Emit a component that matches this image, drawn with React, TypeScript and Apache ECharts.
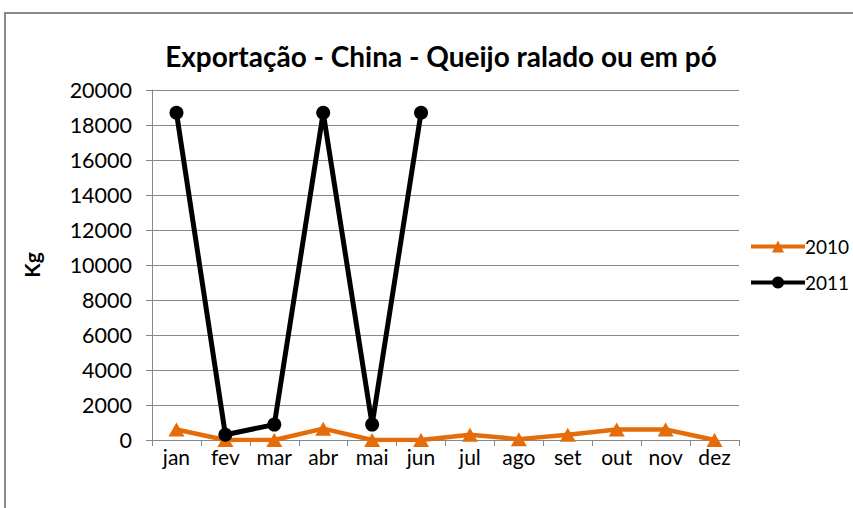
import React, { useEffect, useRef } from "react";
import * as echarts from "echarts";

const months = ["jan", "fev", "mar", "abr", "mai", "jun", "jul", "ago", "set", "out", "nov", "dez"];
const series2010 = [600, 0, 0, 650, 0, 0, 300, 50, 300, 600, 600, 0];
const series2011: (number | null)[] = [18700, 300, 880, 18700, 880, 18700, null, null, null, null, null, null];
const yTicks = [0, 2000, 4000, 6000, 8000, 10000, 12000, 14000, 16000, 18000, 20000];

const FONT = "Lato";

export default function App() {
  const ref = useRef<HTMLDivElement>(null);
  useEffect(() => {
    document.body.style.margin = "0";
    const chart = echarts.init(ref.current!, null, { renderer: "svg" });
    chart.setOption({
      animation: false,
      backgroundColor: "#fff",
      title: {
        text: "Exportação - China - Queijo ralado ou em pó",
        left: 436,
        top: 37,
        textAlign: "center",
        textStyle: { fontFamily: FONT, fontWeight: "bold", fontSize: 28, color: "#000" },
      },
      graphic: [
        {
          type: "rect",
          shape: { x: 5, y: 13, width: 860, height: 510 },
          style: { fill: "none", stroke: "#888", lineWidth: 2 },
          silent: true,
        },
      ],
      legend: {
        orient: "vertical",
        left: 744,
        top: 232,
        itemGap: 17,
        itemWidth: 54,
        itemHeight: 15,
        textStyle: { fontFamily: FONT, fontSize: 19, color: "#000", padding: [0, 0, 0, -5] },
        data: [
          { name: "2010", itemStyle: { color: "#E46C0A" }, lineStyle: { width: 4, color: "#E46C0A" } },
          { name: "2011", itemStyle: { color: "#000" }, lineStyle: { width: 4, color: "#000" } },
        ],
      },
      grid: { left: 152, right: 114, top: 90, bottom: 68, containLabel: false },
      xAxis: {
        type: "category",
        data: months,
        boundaryGap: true,
        axisLine: { lineStyle: { color: "#888", width: 1 } },
        axisTick: { show: true, lineStyle: { color: "#888" }, length: 6, alignWithLabel: false },
        axisLabel: { fontFamily: FONT, fontSize: 21, color: "#000", margin: 6 },
      },
      yAxis: {
        type: "value",
        min: 0,
        max: 20000,
        interval: 2000,
        name: "Kg",
        nameLocation: "middle",
        nameGap: 110,
        nameRotate: 90,
        nameTextStyle: { fontFamily: FONT, fontWeight: "bold", fontSize: 21, color: "#000" },
        axisLine: { show: true, lineStyle: { color: "#888" } },
        axisTick: { show: true, lineStyle: { color: "#888" }, length: 6 },
        splitLine: { lineStyle: { color: "#888", width: 1 } },
        axisLabel: {
          fontFamily: FONT,
          fontSize: 21.5,
          color: "#000",
          margin: 20,
          formatter: (v: number) => (yTicks.includes(v) ? String(v) : ""),
        },
      },
      series: [
        {
          name: "2010",
          type: "line",
          data: series2010,
          symbol: "triangle",
          symbolSize: [16, 14],
          color: "#E46C0A",
          lineStyle: { width: 4.5, color: "#E46C0A" },
          itemStyle: { color: "#E46C0A" },
          z: 2,
        },
        {
          name: "2011",
          type: "line",
          data: series2011,
          symbol: "circle",
          symbolSize: 14,
          color: "#000",
          lineStyle: { width: 5, color: "#000" },
          itemStyle: { color: "#000" },
          connectNulls: false,
          z: 3,
        },
      ],
    });
    return () => chart.dispose();
  }, []);
  return <div ref={ref} style={{ width: 853, height: 508 }} />;
}
